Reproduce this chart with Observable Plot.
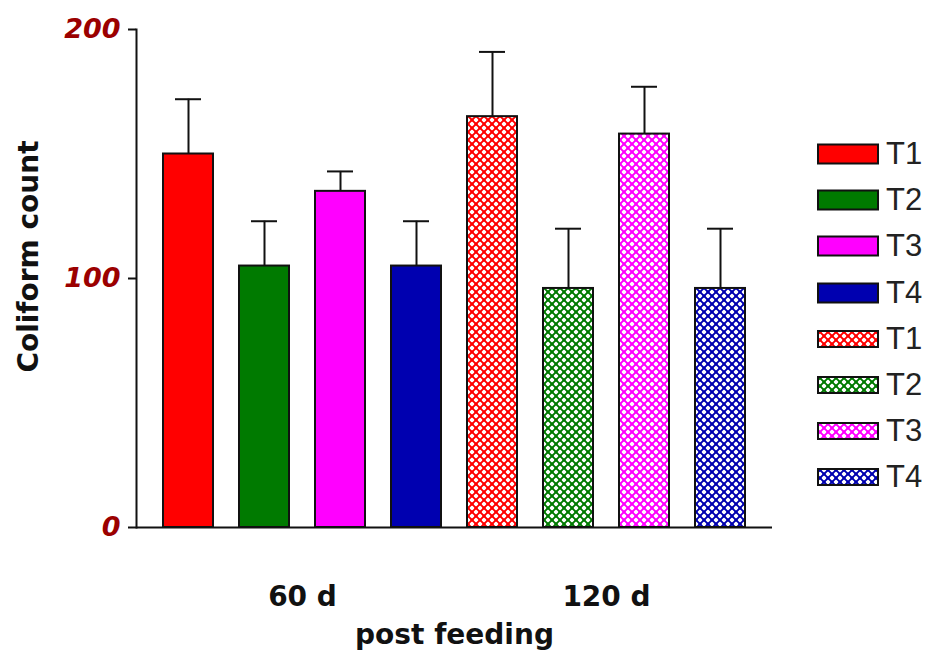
<!DOCTYPE html>
<html>
<head>
<meta charset="utf-8">
<script src="https://cdn.jsdelivr.net/npm/d3@7"></script>
<script src="https://cdn.jsdelivr.net/npm/@observablehq/plot@0.6"></script>
<style>
  html, body { margin: 0; padding: 0; background: #fff; }
  #wrap { position: relative; width: 936px; height: 658px; overflow: hidden; }
  #chart { position: absolute; left: 0; top: 0; }
  #legend { position: absolute; left: 816px; top: 0; width: 120px; height: 658px; }
  .lg-row { position: absolute; left: 0; height: 30px; display: flex; align-items: center; }
  .lg-row span { font-family: "Liberation Sans", Arial, sans-serif; font-size: 31px; color: #222; margin-left: 6px; line-height: 30px; }
</style>
</head>
<body>
<svg width="0" height="0" style="position:absolute">
  <defs id="patterns"></defs>
</svg>
<div id="wrap">
  <div id="chart"></div>
  <div id="legend"></div>
</div>
<script>
// ---- data ----
const periods = ["60 d", "120 d"];
const treatments = ["T1", "T2", "T3", "T4"];
const means60 = [150, 105, 135, 105];
const errors60 = [22, 18, 8, 18];
const means120 = [165, 96, 158, 96];
const errors120 = [26, 24, 19, 24];
const yTicks = [0, 100, 200];

// ---- styles ----
const palette = {T1: "#ff0000", T2: "#007a00", T3: "#ff00ff", T4: "#0000b0"};

// hatch patterns
const defs = d3.select("#patterns");
for (const t of treatments) {
  const p = defs.append("pattern")
    .attr("id", "hatch-" + t)
    .attr("patternUnits", "userSpaceOnUse")
    .attr("width", 8).attr("height", 8);
  p.append("rect").attr("width", 8).attr("height", 8).attr("fill", "#fff");
  p.append("path").attr("d", "M0,0L8,8M8,0L0,8")
    .attr("stroke", palette[t]).attr("stroke-width", 1.9).attr("fill", "none");
  p.append("rect").attr("x", 2.5).attr("y", 2.5).attr("width", 3).attr("height", 3).attr("fill", palette[t]);
  for (const [x, y] of [[0,0],[6.5,0],[0,6.5],[6.5,6.5]])
    p.append("rect").attr("x", x).attr("y", y).attr("width", 1.5).attr("height", 1.5).attr("fill", palette[t]);
}

const rows = [];
periods.forEach((p, pi) => {
  const m = pi === 0 ? means60 : means120;
  const e = pi === 0 ? errors60 : errors120;
  treatments.forEach((t, ti) => {
    rows.push({key: p + "|" + t, period: p, treatment: t, mean: m[ti], err: e[ti]});
  });
});
const fillOf = d => d.period === periods[0] ? palette[d.treatment] : `url(#hatch-${d.treatment})`;

const chart = Plot.plot({
  width: 800,
  height: 658,
  marginLeft: 136,
  marginRight: 28,
  marginTop: 29,
  marginBottom: 131,
  style: {fontFamily: "'DejaVu Sans', Verdana, sans-serif", background: "transparent", overflow: "visible"},
  x: {domain: rows.map(d => d.key), paddingInner: 0.345, paddingOuter: 0.34, axis: null},
  y: {domain: [0, 200], axis: null},
  color: {type: "identity"},
  marks: [
    Plot.barY(rows, {x: "key", y: "mean", fill: fillOf, stroke: "#111", strokeWidth: 2}),
    Plot.ruleX(rows, {x: "key", y1: "mean", y2: d => d.mean + d.err, stroke: "#111", strokeWidth: 2}),
    Plot.tickY(rows, {x: "key", y: d => d.mean + d.err, stroke: "#111", strokeWidth: 2, inset: 12}),
    Plot.ruleY([0], {stroke: "#111", strokeWidth: 2}),
    Plot.frame({anchor: "left", stroke: "#111", strokeWidth: 2}),
    Plot.axisY({
      ticks: yTicks, tickSize: 8, tickPadding: 8, strokeWidth: 2, stroke: "#111",
      fill: "#9b0000", fontSize: 27, fontWeight: "bold", fontStyle: "italic", label: null
    }),
    Plot.text(periods, {
      x: p => p + "|T2", frameAnchor: "bottom", dx: 38, dy: 70, lineAnchor: "middle",
      fontSize: 28, fontWeight: "bold", fill: "#111"
    }),
    Plot.text(["post feeding"], {
      frameAnchor: "bottom", dy: 108, lineAnchor: "middle",
      fontSize: 28, fontWeight: "bold", fill: "#111"
    }),
    Plot.text(["Coliform count"], {
      frameAnchor: "left", textAnchor: "middle", rotate: -90, dx: -107, dy: -22, lineAnchor: "middle",
      fontSize: 28, fontWeight: "bold", fill: "#111"
    })
  ]
});
document.getElementById("chart").appendChild(chart);

// legend
const legend = document.getElementById("legend");
const legendItems = [];
periods.forEach(p => treatments.forEach(t => legendItems.push({period: p, treatment: t})));
const rowCenters0 = 154, rowStep = 46.2;
legendItems.forEach((d, i) => {
  const row = document.createElement("div");
  row.className = "lg-row";
  row.style.top = (rowCenters0 + i * rowStep - 15) + "px";
  const svg = d3.create("svg").attr("width", 64).attr("height", 22);
  const hatched = d.period !== periods[0];
  svg.append("rect")
    .attr("x", 2).attr("y", hatched ? 3 : 1.5)
    .attr("width", 60).attr("height", hatched ? 16 : 19)
    .attr("fill", fillOf(d)).attr("stroke", "#111").attr("stroke-width", 2);
  row.appendChild(svg.node());
  const s = document.createElement("span");
  s.textContent = d.treatment;
  row.appendChild(s);
  legend.appendChild(row);
});
</script>
</body>
</html>
